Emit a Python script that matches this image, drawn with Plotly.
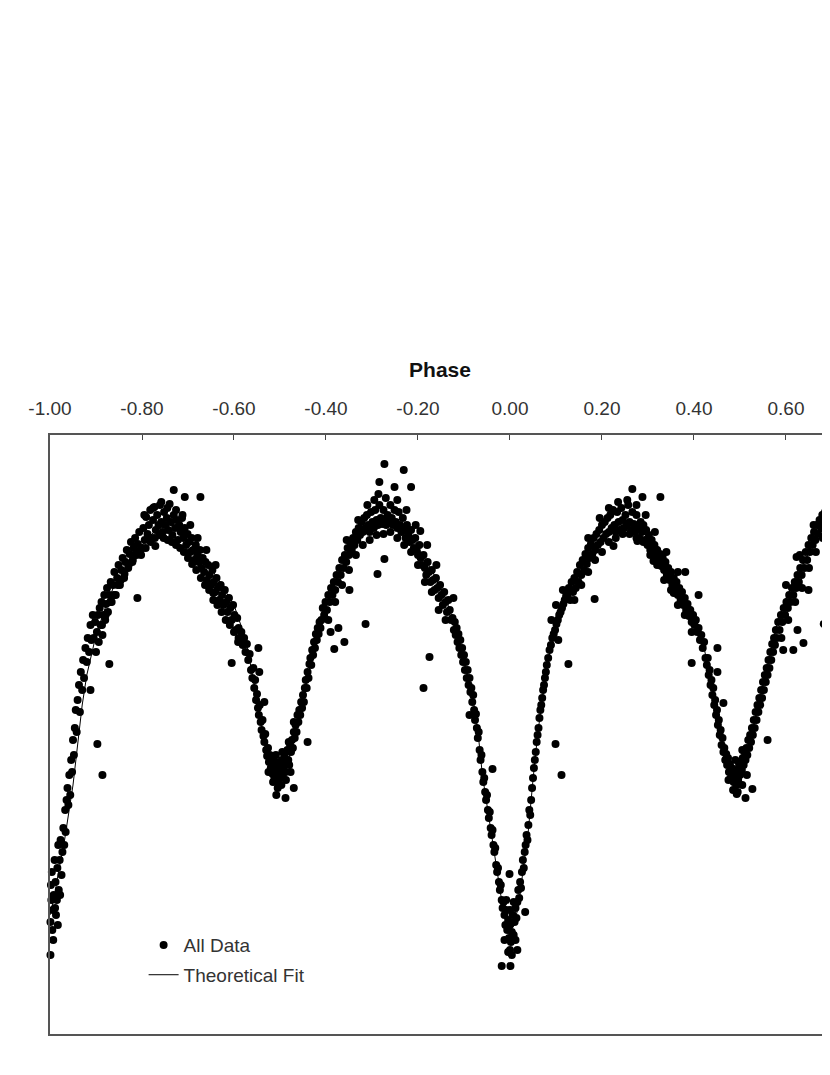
import plotly.graph_objects as go

# theoretical light curve (phase, relative flux)
fit_phase = [-1.00, -0.99, -0.98, -0.97, -0.96, -0.95, -0.94, -0.93, -0.92, -0.90,
             -0.88, -0.86, -0.83, -0.80, -0.77, -0.74, -0.71, -0.68, -0.65, -0.62,
             -0.60, -0.58, -0.57, -0.56, -0.55, -0.54, -0.53, -0.52, -0.51, -0.50,
             -0.49, -0.48, -0.47, -0.46, -0.45, -0.44, -0.43, -0.42, -0.40, -0.37,
             -0.34, -0.31, -0.28, -0.26, -0.23, -0.20, -0.17, -0.14, -0.12, -0.10,
             -0.09, -0.08, -0.07, -0.06, -0.05, -0.04, -0.03, -0.02, -0.01, 0.00,
             0.01, 0.02, 0.03, 0.04, 0.05, 0.06, 0.07, 0.08, 0.09, 0.10,
             0.12, 0.14, 0.17, 0.20, 0.23, 0.26, 0.29, 0.32, 0.35, 0.38,
             0.40, 0.42, 0.43, 0.44, 0.45, 0.46, 0.47, 0.48, 0.49, 0.50,
             0.51, 0.52, 0.53, 0.54, 0.55, 0.56, 0.57, 0.58, 0.60, 0.62,
             0.64, 0.66, 0.68, 0.70]
fit_flux = [0.585, 0.605, 0.632, 0.655, 0.685, 0.715, 0.755, 0.795, 0.825, 0.865,
            0.892, 0.915, 0.933, 0.955, 0.970, 0.975, 0.970, 0.951, 0.932, 0.910,
            0.895, 0.868, 0.850, 0.825, 0.800, 0.775, 0.755, 0.740, 0.730, 0.728,
            0.732, 0.743, 0.760, 0.780, 0.800, 0.822, 0.845, 0.865, 0.893, 0.928,
            0.953, 0.971, 0.978, 0.980, 0.970, 0.953, 0.930, 0.902, 0.875, 0.840,
            0.820, 0.800, 0.770, 0.725, 0.695, 0.665, 0.635, 0.605, 0.582, 0.570,
            0.575, 0.600, 0.635, 0.670, 0.720, 0.765, 0.800, 0.832, 0.855, 0.872,
            0.895, 0.912, 0.937, 0.958, 0.972, 0.978, 0.976, 0.955, 0.930, 0.905,
            0.888, 0.857, 0.835, 0.810, 0.785, 0.762, 0.745, 0.734, 0.730, 0.733,
            0.742, 0.757, 0.775, 0.795, 0.815, 0.835, 0.855, 0.875, 0.902, 0.920,
            0.938, 0.958, 0.972, 0.982]

# observations, by part of the cycle
ph_a = [-1.003, -1.002, -0.999, -1.001, -0.998, -0.996, -0.994, -0.995, -0.992, -0.990,
        -0.988, -0.987, -0.985, -0.984, -0.982, -0.981, -0.979, -0.977, -0.975, -0.973,
        -0.971, -0.969, -0.967, -0.966, -0.964, -0.962, -0.960, -0.958, -0.956, -0.954,
        -0.952, -0.950, -0.948, -0.946, -0.944, -0.942, -0.940, -0.937, -0.935, -0.933,
        -0.930, -0.928, -0.926, -0.923, -0.920, -0.918, -0.915, -0.912, -0.910, -0.907]
fx_a = [0.535, 0.560, 0.578, 0.595, 0.615, 0.628, 0.590, 0.570, 0.605, 0.640,
        0.618, 0.585, 0.600, 0.632, 0.655, 0.610, 0.640, 0.660, 0.625, 0.648,
        0.672, 0.655, 0.690, 0.668, 0.700, 0.712, 0.695, 0.725, 0.705, 0.740,
        0.728, 0.760, 0.745, 0.772, 0.790, 0.768, 0.800, 0.815, 0.788, 0.828,
        0.810, 0.840, 0.822, 0.852, 0.838, 0.862, 0.848, 0.875, 0.860, 0.885]

ph_b = [-0.905, -0.902, -0.900, -0.898, -0.896, -0.894, -0.892, -0.890, -0.888, -0.886,
        -0.884, -0.882, -0.880, -0.878, -0.876, -0.874, -0.871, -0.868, -0.866, -0.863,
        -0.860, -0.857, -0.854, -0.851, -0.848, -0.845, -0.842, -0.839, -0.836, -0.833,
        -0.830, -0.827, -0.824, -0.821, -0.818, -0.815, -0.812, -0.809, -0.806, -0.803]
fx_b = [0.862, 0.878, 0.848, 0.868, 0.885, 0.858, 0.892, 0.875, 0.898, 0.865,
        0.885, 0.905, 0.880, 0.896, 0.912, 0.888, 0.905, 0.918, 0.898, 0.915,
        0.928, 0.905, 0.922, 0.935, 0.915, 0.930, 0.942, 0.922, 0.938, 0.950,
        0.932, 0.946, 0.958, 0.938, 0.952, 0.962, 0.945, 0.956, 0.968, 0.950]

ph_c = [-0.800, -0.797, -0.794, -0.791, -0.788, -0.785, -0.782, -0.779, -0.776, -0.773,
        -0.770, -0.767, -0.764, -0.761, -0.758, -0.755, -0.752, -0.749, -0.746, -0.743,
        -0.740, -0.737, -0.734, -0.731, -0.728, -0.725, -0.722, -0.719, -0.716, -0.713,
        -0.710, -0.707, -0.704, -0.701, -0.698, -0.695, -0.692, -0.689, -0.686, -0.683]
fx_c = [0.952, 0.972, 0.960, 0.983, 0.966, 0.975, 0.990, 0.962, 0.980, 0.993,
        0.970, 0.985, 0.975, 0.995, 0.978, 0.968, 0.988, 0.975, 0.982, 0.970,
        0.996, 0.978, 0.965, 0.985, 0.972, 0.980, 0.960, 0.975, 0.968, 0.982,
        0.962, 0.972, 0.955, 0.966, 0.958, 0.948, 0.962, 0.950, 0.940, 0.955]

ph_d = [-0.680, -0.677, -0.674, -0.671, -0.668, -0.665, -0.662, -0.659, -0.656, -0.653,
        -0.650, -0.647, -0.644, -0.641, -0.638, -0.635, -0.632, -0.629, -0.626, -0.623,
        -0.620, -0.617, -0.614, -0.611, -0.608, -0.605, -0.602, -0.599, -0.596, -0.593]
fx_d = [0.945, 0.938, 0.950, 0.932, 0.942, 0.928, 0.938, 0.920, 0.935, 0.925,
        0.915, 0.930, 0.918, 0.908, 0.922, 0.912, 0.900, 0.915, 0.905, 0.895,
        0.910, 0.898, 0.888, 0.902, 0.892, 0.880, 0.895, 0.885, 0.870, 0.882]

ph_e = [-0.590, -0.587, -0.584, -0.581, -0.578, -0.575, -0.572, -0.569, -0.566, -0.563,
        -0.560, -0.558, -0.556, -0.554, -0.552, -0.550, -0.548, -0.546, -0.544, -0.542,
        -0.540, -0.538, -0.536, -0.534, -0.532, -0.530, -0.528, -0.526, -0.524, -0.522,
        -0.520, -0.518, -0.516, -0.514, -0.512, -0.510, -0.508, -0.506, -0.504, -0.502,
        -0.500, -0.498, -0.496, -0.494, -0.492, -0.490, -0.488, -0.486, -0.484, -0.482,
        -0.480, -0.478, -0.476, -0.474, -0.472, -0.470, -0.468, -0.466, -0.464, -0.462,
        -0.460, -0.458, -0.456, -0.454, -0.452, -0.450, -0.448, -0.446, -0.444, -0.442,
        -0.440, -0.438, -0.436, -0.434, -0.432, -0.430, -0.428, -0.426, -0.424, -0.422,
        -0.420, -0.418, -0.416, -0.414, -0.412]
fx_e = [0.872, 0.860, 0.868, 0.855, 0.862, 0.848, 0.856, 0.840, 0.846, 0.830,
        0.822, 0.832, 0.812, 0.820, 0.800, 0.806, 0.792, 0.785, 0.795, 0.778,
        0.770, 0.780, 0.764, 0.758, 0.766, 0.750, 0.744, 0.752, 0.738, 0.745,
        0.732, 0.740, 0.726, 0.735, 0.722, 0.730, 0.738, 0.718, 0.728, 0.735,
        0.722, 0.730, 0.740, 0.725, 0.733, 0.745, 0.728, 0.738, 0.750, 0.740,
        0.735, 0.755, 0.748, 0.760, 0.752, 0.768, 0.762, 0.775, 0.768, 0.785,
        0.778, 0.790, 0.785, 0.798, 0.792, 0.805, 0.798, 0.812, 0.820, 0.812,
        0.828, 0.822, 0.836, 0.842, 0.835, 0.850, 0.845, 0.858, 0.852, 0.866,
        0.860, 0.872, 0.866, 0.878, 0.872]

ph_f = [-0.410, -0.407, -0.404, -0.401, -0.398, -0.395, -0.392, -0.389, -0.386, -0.383,
        -0.380, -0.377, -0.374, -0.371, -0.368, -0.365, -0.362, -0.359, -0.356, -0.353,
        -0.350, -0.347, -0.344, -0.341, -0.338, -0.335, -0.332, -0.329, -0.326, -0.323,
        -0.320, -0.317, -0.314, -0.311, -0.308, -0.305, -0.302, -0.299, -0.296, -0.293,
        -0.290, -0.287, -0.284, -0.281, -0.278, -0.275, -0.272, -0.269, -0.266, -0.263,
        -0.260, -0.257, -0.254, -0.251, -0.248, -0.245, -0.242, -0.239, -0.236, -0.233,
        -0.230, -0.227, -0.224, -0.221, -0.218, -0.215, -0.212, -0.209, -0.206, -0.203,
        -0.200, -0.197, -0.194, -0.191, -0.188, -0.185, -0.182, -0.179, -0.176, -0.173,
        -0.170, -0.167, -0.164, -0.161, -0.158, -0.155, -0.152, -0.149, -0.146, -0.143,
        -0.140, -0.137, -0.134, -0.131, -0.128]
fx_f = [0.880, 0.892, 0.885, 0.898, 0.890, 0.905, 0.898, 0.912, 0.905, 0.918,
        0.910, 0.925, 0.918, 0.932, 0.925, 0.940, 0.932, 0.945, 0.938, 0.952,
        0.945, 0.958, 0.950, 0.962, 0.955, 0.968, 0.960, 0.972, 0.965, 0.978,
        0.968, 0.982, 0.972, 0.985, 0.975, 0.968, 0.988, 0.978, 0.972, 0.990,
        0.980, 0.975, 0.995, 0.982, 0.976, 0.990, 0.980, 0.975, 0.985, 0.978,
        0.995, 0.982, 0.975, 0.990, 0.978, 0.972, 0.988, 0.975, 0.968, 0.982,
        0.970, 0.962, 0.975, 0.965, 0.958, 0.970, 0.960, 0.952, 0.962, 0.950,
        0.945, 0.955, 0.942, 0.935, 0.945, 0.932, 0.925, 0.938, 0.928, 0.918,
        0.930, 0.920, 0.910, 0.922, 0.912, 0.902, 0.915, 0.905, 0.895, 0.908,
        0.898, 0.888, 0.900, 0.890, 0.880]

ph_g = [-0.125, -0.122, -0.120, -0.118, -0.116, -0.114, -0.112, -0.110, -0.108, -0.106,
        -0.104, -0.102, -0.100, -0.098, -0.096, -0.094, -0.092, -0.090, -0.088, -0.086,
        -0.084, -0.082, -0.080, -0.078, -0.076, -0.074, -0.072, -0.070, -0.068, -0.066,
        -0.064, -0.062, -0.060, -0.058, -0.056, -0.054, -0.052, -0.050, -0.048, -0.046,
        -0.044, -0.042, -0.040, -0.038, -0.036, -0.034, -0.032, -0.030, -0.028, -0.026,
        -0.024, -0.022, -0.020, -0.018, -0.016, -0.014, -0.012, -0.010, -0.008, -0.006,
        -0.004, -0.002, 0.000, 0.002, 0.004, 0.006, 0.008, 0.010, 0.012, 0.014,
        0.016, 0.018, 0.020, 0.022, 0.024, 0.026, 0.028, 0.030, 0.032, 0.034,
        0.036, 0.038, 0.040, 0.042, 0.044, 0.046, 0.048, 0.050, 0.052, 0.054,
        0.056, 0.058, 0.060, 0.062, 0.064, 0.066, 0.068, 0.070, 0.072, 0.074,
        0.076, 0.078, 0.080, 0.083, 0.086, 0.089, 0.092, 0.095, 0.098, 0.101,
        0.104, 0.107, 0.110, 0.113, 0.116, 0.119, 0.122, 0.125, 0.090, 0.100,
        0.105, 0.115]
fx_g = [0.882, 0.870, 0.878, 0.865, 0.872, 0.858, 0.866, 0.852, 0.860, 0.845,
        0.852, 0.838, 0.845, 0.830, 0.838, 0.822, 0.830, 0.815, 0.822, 0.808,
        0.812, 0.798, 0.805, 0.790, 0.780, 0.786, 0.772, 0.762, 0.768, 0.750,
        0.740, 0.745, 0.728, 0.718, 0.722, 0.708, 0.700, 0.705, 0.690, 0.682,
        0.688, 0.672, 0.665, 0.670, 0.655, 0.648, 0.652, 0.635, 0.628, 0.632,
        0.618, 0.610, 0.615, 0.600, 0.592, 0.598, 0.585, 0.575, 0.590, 0.570,
        0.580, 0.562, 0.575, 0.558, 0.568, 0.585, 0.565, 0.578, 0.592, 0.582,
        0.598, 0.610, 0.602, 0.618, 0.612, 0.628, 0.640, 0.632, 0.648, 0.655,
        0.665, 0.660, 0.675, 0.690, 0.685, 0.700, 0.712, 0.722, 0.732, 0.740,
        0.748, 0.758, 0.765, 0.772, 0.782, 0.790, 0.795, 0.802, 0.810, 0.815,
        0.822, 0.828, 0.835, 0.842, 0.850, 0.855, 0.862, 0.866, 0.870, 0.876,
        0.880, 0.885, 0.888, 0.892, 0.896, 0.900, 0.904, 0.906, 0.880, 0.895,
        0.860, 0.910]

ph_h = [0.128, 0.131, 0.134, 0.137, 0.140, 0.143, 0.146, 0.149, 0.152, 0.155,
        0.158, 0.161, 0.164, 0.167, 0.170, 0.173, 0.176, 0.179, 0.182, 0.185,
        0.188, 0.191, 0.194, 0.197, 0.200, 0.203, 0.206, 0.209, 0.212, 0.215,
        0.218, 0.221, 0.224, 0.227, 0.230, 0.233, 0.236, 0.239, 0.242, 0.245,
        0.248, 0.251, 0.254, 0.257, 0.260, 0.263, 0.266, 0.269, 0.272, 0.275,
        0.278, 0.281, 0.284, 0.287, 0.290, 0.293, 0.296, 0.299, 0.302, 0.305,
        0.308, 0.311, 0.314, 0.317, 0.320, 0.323, 0.326, 0.329, 0.332, 0.335,
        0.338, 0.341, 0.344, 0.347, 0.350, 0.353, 0.356, 0.359, 0.362, 0.365,
        0.368, 0.371, 0.374, 0.377, 0.380, 0.383, 0.386, 0.389, 0.392, 0.395]
fx_h = [0.912, 0.900, 0.918, 0.908, 0.922, 0.912, 0.928, 0.918, 0.935, 0.925,
        0.940, 0.930, 0.946, 0.936, 0.952, 0.942, 0.956, 0.946, 0.962, 0.950,
        0.966, 0.955, 0.970, 0.958, 0.975, 0.962, 0.978, 0.966, 0.982, 0.968,
        0.985, 0.972, 0.990, 0.975, 0.968, 0.988, 0.978, 0.970, 0.992, 0.980,
        0.972, 0.985, 0.975, 0.995, 0.978, 0.970, 0.988, 0.976, 0.968, 0.985,
        0.972, 0.962, 0.978, 0.968, 0.975, 0.960, 0.970, 0.955, 0.965, 0.950,
        0.960, 0.946, 0.955, 0.942, 0.950, 0.938, 0.946, 0.934, 0.942, 0.930,
        0.938, 0.925, 0.932, 0.920, 0.928, 0.915, 0.922, 0.910, 0.918, 0.905,
        0.912, 0.900, 0.908, 0.895, 0.902, 0.890, 0.896, 0.884, 0.890, 0.878]

ph_i = [0.398, 0.401, 0.404, 0.407, 0.410, 0.413, 0.416, 0.419, 0.422, 0.425,
        0.428, 0.430, 0.432, 0.434, 0.436, 0.438, 0.440, 0.442, 0.444, 0.446,
        0.448, 0.450, 0.452, 0.454, 0.456, 0.458, 0.460, 0.462, 0.464, 0.466,
        0.468, 0.470, 0.472, 0.474, 0.476, 0.478, 0.480, 0.482, 0.484, 0.486,
        0.488, 0.490, 0.492, 0.494, 0.496, 0.498, 0.500, 0.502, 0.504, 0.506,
        0.508, 0.510, 0.512, 0.514, 0.516, 0.518, 0.520, 0.522, 0.524, 0.526,
        0.528, 0.530, 0.532, 0.534, 0.536, 0.538, 0.540, 0.542, 0.544, 0.546,
        0.548, 0.550, 0.552, 0.554, 0.556, 0.558, 0.560, 0.562, 0.564, 0.566,
        0.568, 0.570, 0.572, 0.574, 0.576, 0.578, 0.580, 0.583, 0.586, 0.589,
        0.592, 0.595, 0.598, 0.601, 0.604, 0.607, 0.610, 0.613, 0.616, 0.619,
        0.622, 0.625, 0.628, 0.631, 0.634, 0.637, 0.640, 0.643, 0.646, 0.649,
        0.652, 0.655, 0.658, 0.661, 0.664, 0.667, 0.670, 0.673, 0.676, 0.679,
        0.682, 0.685, 0.688, 0.691, 0.694, 0.697]
fx_i = [0.885, 0.875, 0.880, 0.868, 0.872, 0.860, 0.865, 0.852, 0.858, 0.842,
        0.835, 0.842, 0.825, 0.830, 0.815, 0.820, 0.805, 0.812, 0.795, 0.800,
        0.785, 0.790, 0.775, 0.780, 0.765, 0.770, 0.755, 0.762, 0.748, 0.752,
        0.740, 0.746, 0.735, 0.742, 0.728, 0.736, 0.722, 0.732, 0.725, 0.718,
        0.730, 0.722, 0.715, 0.728, 0.720, 0.735, 0.725, 0.738, 0.730, 0.742,
        0.735, 0.748, 0.740, 0.752, 0.745, 0.760, 0.752, 0.765, 0.758, 0.772,
        0.765, 0.780, 0.772, 0.788, 0.780, 0.795, 0.788, 0.802, 0.795, 0.810,
        0.802, 0.818, 0.810, 0.825, 0.818, 0.832, 0.825, 0.840, 0.832, 0.848,
        0.840, 0.856, 0.848, 0.862, 0.855, 0.870, 0.862, 0.878, 0.870, 0.885,
        0.878, 0.892, 0.885, 0.898, 0.892, 0.905, 0.898, 0.912, 0.905, 0.918,
        0.912, 0.925, 0.918, 0.932, 0.925, 0.940, 0.932, 0.948, 0.940, 0.955,
        0.948, 0.962, 0.955, 0.968, 0.960, 0.975, 0.966, 0.980, 0.972, 0.985,
        0.976, 0.988, 0.980, 0.992, 0.984, 0.995]

# extra points that fill out the width of the band
ph_x = [-0.887, -0.879, -0.869, -0.861, -0.853, -0.846, -0.838, -0.829, -0.820, -0.811,
        -0.802, -0.792, -0.781, -0.772, -0.762, -0.753, -0.744, -0.735, -0.726, -0.717,
        -0.709, -0.700, -0.691, -0.682, -0.672, -0.663, -0.654, -0.645, -0.636, -0.627,
        -0.618, -0.609, -0.600, -0.591, -0.795, -0.776, -0.758, -0.745, -0.726, -0.712,
        -0.695, -0.679, -0.660, -0.640, -0.525, -0.515, -0.505, -0.497, -0.487, -0.477,
        -0.509, -0.495, -0.481, -0.395, -0.380, -0.365, -0.350, -0.335, -0.320, -0.305,
        -0.290, -0.275, -0.260, -0.245, -0.230, -0.215, -0.200, -0.185, -0.170, -0.155,
        -0.140, -0.355, -0.330, -0.310, -0.295, -0.270, -0.245, -0.225, -0.205, -0.180,
        -0.160, -0.012, -0.004, 0.004, 0.012, -0.008, 0.008, 0.000, 0.140, 0.155,
        0.170, 0.185, 0.200, 0.215, 0.230, 0.245, 0.260, 0.275, 0.290, 0.305,
        0.320, 0.335, 0.350, 0.365, 0.380, 0.395, 0.170, 0.195, 0.215, 0.235,
        0.255, 0.275, 0.295, 0.315, 0.340, 0.365, 0.475, 0.485, 0.495, 0.505,
        0.515, 0.490, 0.505, 0.590, 0.605, 0.620, 0.635, 0.650, 0.665, 0.680,
        0.695, 0.600, 0.630, 0.660, 0.690, -0.999, -0.997, -0.993, -0.989, -0.983,
        -0.978]
fx_x = [0.875, 0.885, 0.898, 0.905, 0.915, 0.920, 0.926, 0.935, 0.940, 0.948,
        0.945, 0.952, 0.958, 0.962, 0.965, 0.962, 0.960, 0.958, 0.955, 0.952,
        0.948, 0.942, 0.936, 0.930, 0.922, 0.915, 0.910, 0.900, 0.895, 0.888,
        0.880, 0.875, 0.868, 0.858, 0.985, 0.992, 0.998, 0.992, 0.990, 0.985,
        0.975, 0.962, 0.950, 0.935, 0.728, 0.718, 0.712, 0.715, 0.720, 0.728,
        0.745, 0.748, 0.758, 0.880, 0.898, 0.915, 0.930, 0.945, 0.955, 0.960,
        0.965, 0.966, 0.968, 0.962, 0.955, 0.948, 0.935, 0.918, 0.908, 0.890,
        0.880, 0.960, 0.980, 0.995, 1.000, 1.002, 1.000, 0.990, 0.975, 0.955,
        0.935, 0.560, 0.548, 0.545, 0.560, 0.600, 0.598, 0.590, 0.900, 0.915,
        0.928, 0.940, 0.948, 0.958, 0.962, 0.966, 0.966, 0.962, 0.958, 0.945,
        0.935, 0.920, 0.910, 0.895, 0.885, 0.868, 0.962, 0.982, 0.992, 0.998,
        1.000, 0.995, 0.985, 0.968, 0.948, 0.928, 0.720, 0.710, 0.708, 0.715,
        0.725, 0.740, 0.750, 0.862, 0.880, 0.898, 0.912, 0.932, 0.948, 0.962,
        0.972, 0.915, 0.945, 0.975, 1.000, 0.545, 0.600, 0.560, 0.592, 0.575,
        0.605]

# stray points away from the main band
ph_out = [-0.731, -0.707, -0.673, -0.810, -0.771, -0.871, -0.897, -0.886, -0.605, -0.684,
          -0.645, -0.912, -0.590, -0.273, -0.231, -0.284, -0.251, -0.215, -0.286, -0.273,
          -0.288, -0.314, -0.175, -0.188, -0.360, -0.382, -0.373, -0.390, -0.349, -0.195,
          -0.440, -0.470, -0.534, -0.545, -0.547, -0.508, -0.488, -0.470, 0.266, 0.184,
          0.127, 0.099, 0.112, -0.038, -0.001, 0.033, 0.000, 0.016, -0.018, 0.001,
          -0.123, -0.088, 0.225, 0.288, 0.327, 0.395, 0.451, 0.451, 0.464, 0.493,
          0.512, 0.527, 0.560, 0.616, 0.594, 0.638, 0.682, 0.625, 0.649, 0.623,
          0.312, 0.381, 0.410, 0.356, 0.277]
fx_out = [1.010, 1.003, 1.003, 0.902, 0.954, 0.836, 0.756, 0.725, 0.837, 0.940,
          0.907, 0.810, 0.862, 1.036, 1.030, 1.018, 1.013, 1.013, 1.006, 0.941,
          0.926, 0.876, 0.843, 0.812, 0.858, 0.851, 0.872, 0.868, 0.910, 0.969,
          0.758, 0.778, 0.798, 0.828, 0.852, 0.705, 0.702, 0.712, 1.011, 0.901,
          0.836, 0.756, 0.725, 0.731, 0.626, 0.588, 0.550, 0.550, 0.534, 0.534,
          0.902, 0.785, 0.954, 1.003, 1.003, 0.837, 0.828, 0.852, 0.797, 0.706,
          0.702, 0.711, 0.760, 0.850, 0.850, 0.857, 0.876, 0.870, 0.910, 0.943,
          0.939, 0.928, 0.905, 0.907, 0.959]

obs_phase = ph_a + ph_b + ph_c + ph_d + ph_e + ph_f + ph_g + ph_h + ph_i + ph_x + ph_out
obs_flux = fx_a + fx_b + fx_c + fx_d + fx_e + fx_f + fx_g + fx_h + fx_i + fx_x + fx_out

tick_vals = [-1.0, -0.8, -0.6, -0.4, -0.2, 0.0, 0.2, 0.4, 0.6, 0.8, 1.0]
tick_text = ['-1.00', '-0.80', '-0.60', '-0.40', '-0.20', '0.00', '0.20', '0.40', '0.60', '0.80', '1.00']

font = 'Liberation Sans, Arial, sans-serif'

fig = go.Figure()
fig.add_trace(go.Scatter(x=obs_phase, y=obs_flux, mode='markers', name='All Data',
                         legendgroup='a', cliponaxis=False,
                         marker=dict(symbol='circle', size=8, color='black')))
fig.add_trace(go.Scatter(x=fit_phase, y=fit_flux, mode='lines', name='Theoretical Fit',
                         legendgroup='b', line=dict(color='black', width=1)))

# the page body adds an 8px offset, so the figure is a little smaller than the window
fig.update_layout(
    width=822, height=1067,
    margin=dict(l=42, r=0, t=427, b=41),
    paper_bgcolor='white', plot_bgcolor='white',
    font=dict(family=font, size=19, color='#333'),
    showlegend=True,
    legend=dict(x=0.12, y=0.18, xanchor='left', yanchor='top',
                bgcolor='rgba(0,0,0,0)', font=dict(size=19, color='#333'),
                tracegroupgap=2, itemwidth=30),
    xaxis=dict(side='top', range=[-1.0, 0.6957], tickvals=tick_vals, ticktext=tick_text,
               ticks='inside', ticklen=5, tickcolor='#444', tickwidth=1,
               showline=True, linecolor='#555', linewidth=1.5, mirror=True,
               showgrid=False, zeroline=False, ticklabelstandoff=11,
               tickfont=dict(size=19, color='#333'),
               title=dict(text='<b>Phase</b>', font=dict(size=21, color='#111'), standoff=14)),
    yaxis=dict(range=[0.466, 1.065], showline=True, linecolor='#555', linewidth=1.5,
               showticklabels=False, ticks='', showgrid=False, zeroline=False),
)

fig.write_html("out.html")
